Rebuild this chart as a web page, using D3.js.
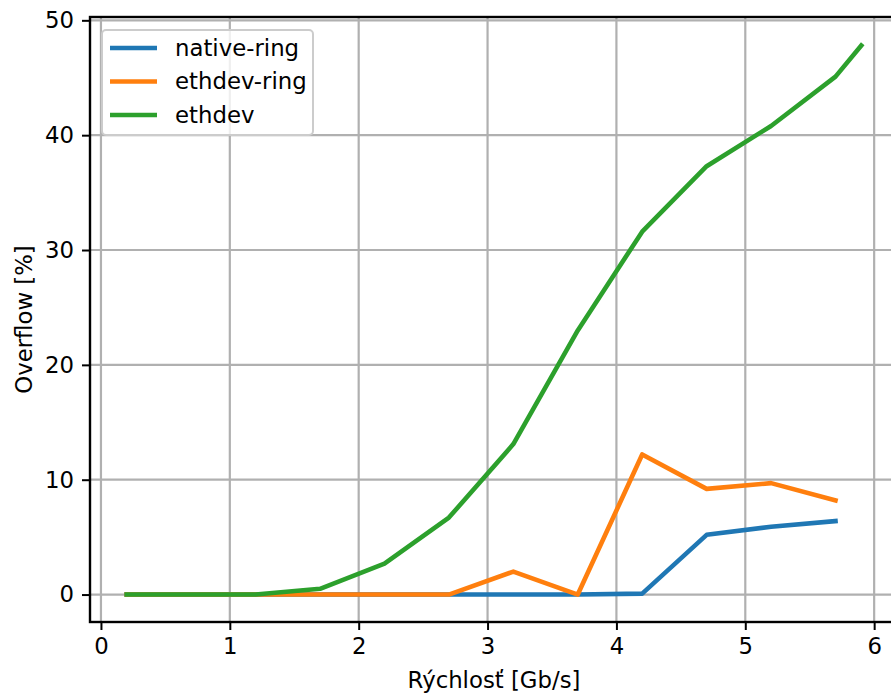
<!DOCTYPE html>
<html>
<head>
<meta charset="utf-8">
<script src="https://cdn.jsdelivr.net/npm/d3@7"></script>
<style>
  body { margin: 0; background: #fff; }
  text { font-family: "DejaVu Sans", sans-serif; fill: #000; }
</style>
</head>
<body>
<div id="chart"></div>
<script>
// speeds in Gb/s
const speeds = [0.2, 0.7, 1.2, 1.7, 2.2, 2.7, 3.2, 3.7, 4.2, 4.7, 5.2, 5.7];
const speedsEthdev = [0.2, 0.7, 1.2, 1.7, 2.2, 2.7, 3.2, 3.7, 4.2, 4.7, 5.2, 5.7, 5.9];

const nativeRing = [0, 0, 0, 0, 0, 0, 0, 0, 0.08, 5.2, 5.9, 6.4];
const ethdevRing = [0, 0, 0, 0, 0, 0, 2.0, 0, 12.2, 9.2, 9.7, 8.2];
const ethdev = [0, 0, 0, 0.5, 2.7, 6.7, 13.1, 23.0, 31.6, 37.3, 40.8, 45.1, 47.8];

const xTicks = [0, 1, 2, 3, 4, 5, 6];
const yTicks = [0, 10, 20, 30, 40, 50];

const seriesNames = ["native-ring", "ethdev-ring", "ethdev"];
const seriesColors = ["#1f77b4", "#ff7f0e", "#2ca02c"];

const width = 891, height = 693;
const margin = { left: 90, right: -7, top: 17, bottom: 71 };
const fontSize = "22.8px";

const series = [
  { name: seriesNames[0], color: seriesColors[0], xs: speeds, ys: nativeRing },
  { name: seriesNames[1], color: seriesColors[1], xs: speeds, ys: ethdevRing },
  { name: seriesNames[2], color: seriesColors[2], xs: speedsEthdev, ys: ethdev }
];

const svg = d3.select("#chart").append("svg")
  .attr("width", width)
  .attr("height", height);

const x = d3.scaleLinear().domain([-0.085, 6.185]).range([margin.left, width - margin.right]);
const y = d3.scaleLinear().domain([-2.39, 50.29]).range([height - margin.bottom, margin.top]);

const plotLeft = margin.left, plotRight = width - margin.right;
const plotTop = margin.top, plotBottom = height - margin.bottom;

// grid
const grid = svg.append("g").attr("stroke", "#b0b0b0").attr("stroke-width", 2.2);
grid.selectAll(".gx").data(xTicks).join("line")
  .attr("x1", d => x(d)).attr("x2", d => x(d))
  .attr("y1", plotTop).attr("y2", plotBottom);
grid.selectAll(".gy").data(yTicks).join("line")
  .attr("y1", d => y(d)).attr("y2", d => y(d))
  .attr("x1", plotLeft).attr("x2", plotRight);

// lines
svg.append("clipPath").attr("id", "clip")
  .append("rect").attr("x", plotLeft).attr("y", plotTop)
  .attr("width", plotRight - plotLeft).attr("height", plotBottom - plotTop);

const line = d3.line().x(d => x(d[0])).y(d => y(d[1]));
svg.append("g").attr("clip-path", "url(#clip)")
  .selectAll("path").data(series).join("path")
  .attr("d", s => line(s.xs.map((v, i) => [v, s.ys[i]])))
  .attr("fill", "none")
  .attr("stroke", s => s.color)
  .attr("stroke-width", 4.6)
  .attr("stroke-linecap", "square")
  .attr("stroke-linejoin", "round");

// axes
const xAxis = d3.axisBottom(x).tickValues(xTicks).tickSize(8).tickPadding(8).tickFormat(d3.format("d"));
const yAxis = d3.axisLeft(y).tickValues(yTicks).tickSize(8).tickPadding(8).tickFormat(d3.format("d"));

const gx = svg.append("g").attr("transform", `translate(0,${plotBottom})`).call(xAxis);
const gy = svg.append("g").attr("transform", `translate(${plotLeft},0)`).call(yAxis);
[gx, gy].forEach(g => {
  g.select(".domain").remove();
  g.selectAll(".tick line").attr("stroke", "#000").attr("stroke-width", 2);
  g.selectAll(".tick text").style("font-size", fontSize).attr("fill", "#000");
});

// spines
svg.append("rect")
  .attr("x", plotLeft).attr("y", plotTop)
  .attr("width", plotRight - plotLeft).attr("height", plotBottom - plotTop)
  .attr("fill", "none").attr("stroke", "#000").attr("stroke-width", 2.4);

// axis labels
svg.append("text")
  .attr("x", (plotLeft + plotRight) / 2).attr("y", 688)
  .attr("text-anchor", "middle")
  .style("font-size", fontSize)
  .text("Rýchlosť [Gb/s]");

svg.append("text")
  .attr("transform", `translate(32,${(plotTop + plotBottom) / 2}) rotate(-90)`)
  .attr("text-anchor", "middle")
  .style("font-size", fontSize)
  .text("Overflow [%]");

// legend
const legend = svg.append("g").attr("transform", "translate(102,30)");
legend.append("rect")
  .attr("width", 211).attr("height", 105).attr("rx", 4)
  .attr("fill", "#fff").attr("fill-opacity", 0.8)
  .attr("stroke", "#cccccc").attr("stroke-width", 2);
const items = legend.selectAll(".item").data(series).join("g")
  .attr("transform", (d, i) => `translate(0,${18 + i * 33.5})`);
items.append("line")
  .attr("x1", 8).attr("x2", 55)
  .attr("stroke", d => d.color).attr("stroke-width", 4.6);
items.append("text")
  .attr("x", 73).attr("dy", "0.35em")
  .style("font-size", fontSize)
  .text(d => d.name);
</script>
</body>
</html>
